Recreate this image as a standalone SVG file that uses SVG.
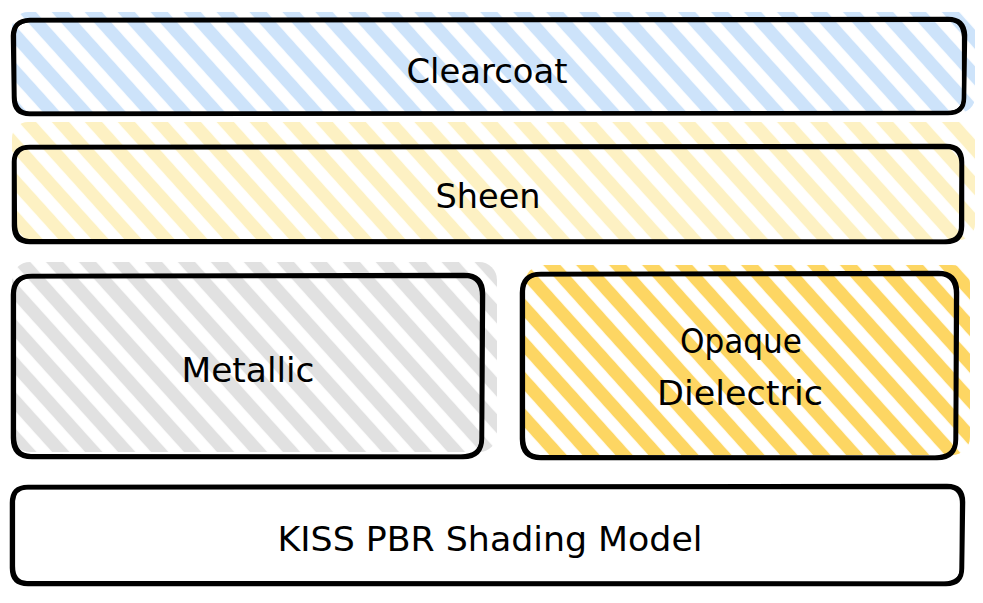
<svg xmlns="http://www.w3.org/2000/svg" width="983" height="603" viewBox="0 0 983 603">
<style>
.box{fill:none;stroke:#000;stroke-width:4.5;stroke-linecap:round;stroke-linejoin:round}
.box2{fill:none;stroke:#000;stroke-width:2.2;stroke-linecap:round;stroke-linejoin:round}
.lbl{font-family:"DejaVu Sans","Liberation Sans",sans-serif;font-size:34px;fill:#000;text-anchor:middle}
</style>
<defs>
<pattern id="hBlue" patternUnits="userSpaceOnUse" width="20" height="24.5" patternTransform="rotate(48)"><rect x="0" y="5.75" width="20" height="13" fill="#cde3fa"/></pattern>
<pattern id="hPale" patternUnits="userSpaceOnUse" width="20" height="24.5" patternTransform="rotate(48)"><rect x="0" y="5.75" width="20" height="13" fill="#fdf1c3"/></pattern>
<pattern id="hGray" patternUnits="userSpaceOnUse" width="20" height="24.5" patternTransform="rotate(48)"><rect x="0" y="5.75" width="20" height="13" fill="#e1e1e1"/></pattern>
<pattern id="hGold" patternUnits="userSpaceOnUse" width="20" height="24.5" patternTransform="rotate(48)"><rect x="0" y="5.75" width="20" height="13" fill="#fdd663"/></pattern>
</defs>
<rect width="983" height="603" fill="#fff"/>

<g id="clearcoat">
<rect x="12" y="12" width="963" height="101" rx="16" fill="url(#hBlue)"/>
<path class="box" d="M30,20 L948,19 Q964,19 965,35 L964,98 Q964,113 948,113 L30,114 Q14,114 14,98 L13,36 Q13,21 30,20 Z"/>
<path class="box2" d="M28,21.5 L950,21 Q962,21 963,37 L963,100 Q962,112 946,112.5 L29,112.5 Q16,112 15.5,96 L15,34 Q16,22 28,21.5"/>
<text class="lbl" x="487" y="83" textLength="161" lengthAdjust="spacingAndGlyphs">Clearcoat</text>
</g>

<g id="sheen">
<rect x="12" y="122" width="963" height="118" rx="16" fill="url(#hPale)"/>
<path class="box" d="M30,147 L946,146 Q962,146 962,162 L962,226 Q962,242 946,242 L30,242 Q14,242 14,226 L14,162 Q14,147 30,147 Z"/>
<path class="box2" d="M28,148.5 L948,148 Q960,149 960.5,164 L960,228 Q959,240 944,240.5 L29,240 Q16,239.5 16,224 L15.5,160 Q17,149 28,148.5"/>
<text class="lbl" x="488" y="208" textLength="105" lengthAdjust="spacingAndGlyphs">Sheen</text>
</g>

<g id="metallic">
<rect x="12" y="262" width="485" height="190" rx="18" fill="url(#hGray)"/>
<path class="box" d="M32,276 L464,275 Q483,275 483,294 L482,438 Q482,457 463,457 L32,457 Q13,457 13,438 L13,295 Q13,276 32,276 Z"/>
<path class="box2" d="M30,277.5 L466,277 Q481,278 481,296 L480.5,440 Q480,455 461,455.5 L31,455 Q15,455 15,436 L15,293 Q16,278 30,277.5"/>
<text class="lbl" x="248" y="382" textLength="133" lengthAdjust="spacingAndGlyphs">Metallic</text>
</g>

<g id="opaque-dielectric">
<rect x="525" y="265" width="445" height="190" rx="18" fill="url(#hGold)"/>
<path class="box" d="M541,274 L938,273 Q957,273 957,292 L956,439 Q956,458 937,458 L541,458 Q522,458 522,439 L522,293 Q522,274 541,274 Z"/>
<path class="box2" d="M539,275.5 L940,275 Q955,276 955,294 L954.5,441 Q954,456 935,456.5 L540,456 Q524,456 524,437 L524,291 Q525,276 539,275.5"/>
<text class="lbl" x="741" y="353" textLength="122" lengthAdjust="spacingAndGlyphs">Opaque</text>
<text class="lbl" x="740" y="405" textLength="166" lengthAdjust="spacingAndGlyphs">Dielectric</text>
</g>

<g id="kiss-pbr">
<path class="box" d="M28,487 L947,486 Q963,486 963,502 L962,568 Q962,584 946,584 L28,584 Q12,584 12,568 L12,503 Q12,487 28,487 Z"/>
<path class="box2" d="M26,488.5 L949,488 Q961,489 961,504 L960.5,570 Q960,582 944,582.5 L27,582 Q14,582 14,566 L14,501 Q15,489 26,488.5"/>
<text class="lbl" x="490" y="551" textLength="425" lengthAdjust="spacingAndGlyphs">KISS PBR Shading Model</text>
</g>

<g id="connectors"></g>
</svg>
